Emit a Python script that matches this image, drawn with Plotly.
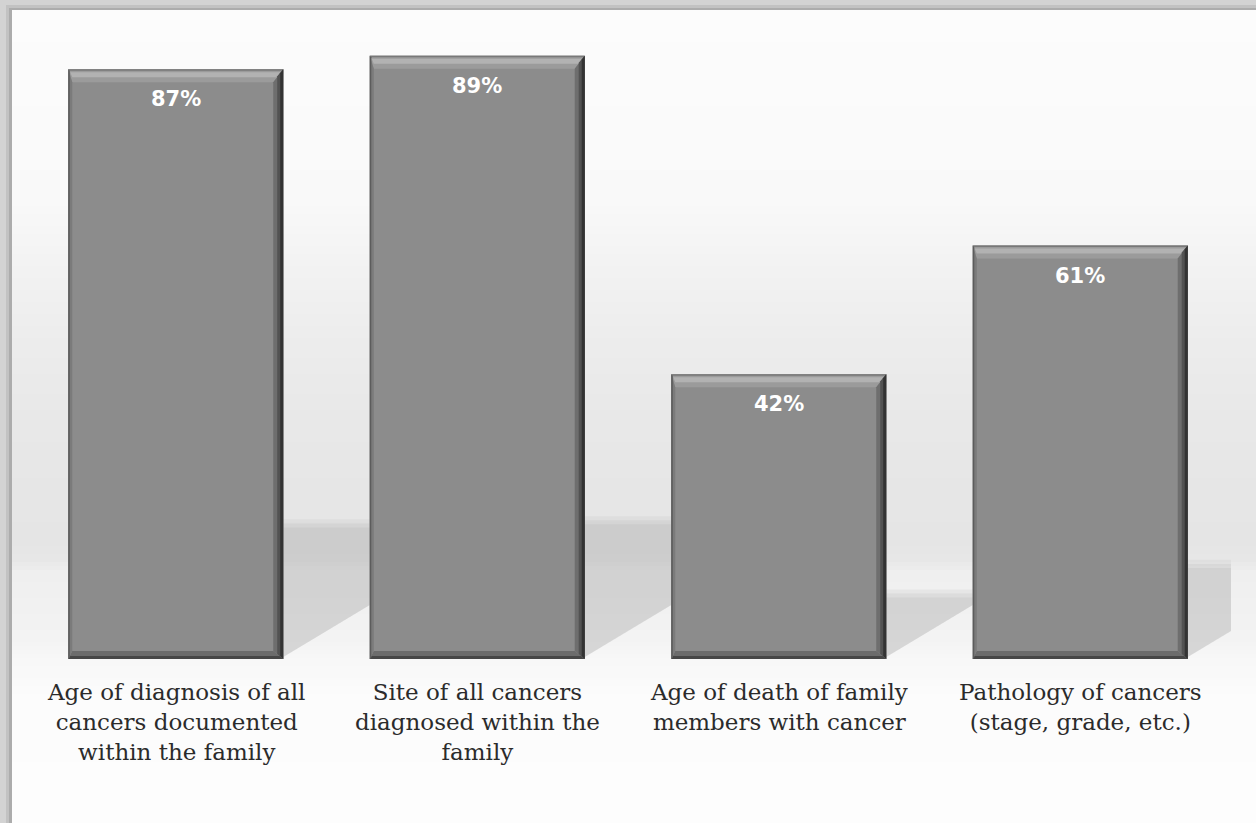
import plotly.graph_objects as go

# Survey results: share of family-history records containing each item
categories = [
    "Age of diagnosis of all<br>cancers documented<br>within the family",
    "Site of all cancers<br>diagnosed within the<br>family",
    "Age of death of family<br>members with cancer",
    "Pathology of cancers<br>(stage, grade, etc.)",
]
percent_values = [87, 89, 42, 61]
value_labels = [f"{v}%" for v in percent_values]

# ---- layout geometry -------------------------------------------------
W_FIG, H_FIG = 1256, 823
M_L, M_R, M_T, M_B = 25, 25, 20, 164
PLOT_W = W_FIG - M_L - M_R
PLOT_H = H_FIG - M_T - M_B
Y_MAX = 94.28
BAR_W = 0.713
PX_X = PLOT_W / len(categories)      # pixels per x unit
PX_Y = PLOT_H / Y_MAX                # pixels per y unit
xs = list(range(len(categories)))


def px(X):
    return (X - M_L) / PLOT_W


def py(Y):
    return (H_FIG - M_B - Y) / PLOT_H


def grey(g):
    g = int(round(g))
    return f"rgb({g},{g},{g})"


shapes = []

# outer frame shadow and white panel
shapes.append(dict(type="rect", xref="paper", yref="paper", layer="below",
                   x0=px(6), x1=px(W_FIG + 5), y0=py(H_FIG + 5), y1=py(5),
                   fillcolor="#c2c2c2", line_width=0))
shapes.append(dict(type="rect", xref="paper", yref="paper", layer="below",
                   x0=px(9), x1=px(W_FIG + 5), y0=py(H_FIG + 5), y1=py(8),
                   fillcolor="#acacac", line_width=0))
shapes.append(dict(type="rect", xref="paper", yref="paper", layer="below",
                   x0=px(12), x1=px(W_FIG + 5), y0=py(H_FIG + 5), y1=py(10),
                   fillcolor="#fcfcfc", line_width=0))

# soft vertical backdrop gradient behind the bars
stops = [(10, 252), (200, 249), (260, 243), (330, 237), (420, 232),
         (540, 229), (560, 231), (572, 239), (640, 243), (662, 248),
         (700, 252), (823, 253)]


def level(y):
    for (ya, ga), (yb, gb) in zip(stops[:-1], stops[1:]):
        if ya <= y <= yb:
            return ga + (gb - ga) * (y - ya) / (yb - ya)
    return stops[-1][1]


step = 4
for y in range(10, H_FIG, step):
    shapes.append(dict(type="rect", xref="paper", yref="paper", layer="below",
                       x0=px(12), x1=px(W_FIG + 5), y0=py(y + step), y1=py(y),
                       fillcolor=grey(level(y + step / 2)), line_width=0))

# cast shadows on the floor, to the right of each bar (soft top edge)
for i, v in enumerate(percent_values):
    xr = i + BAR_W / 2
    xe = (i + 1 - BAR_W / 2) if i < len(categories) - 1 else len(categories) - 0.5
    top = 0.23 * v
    y0b = 0.3
    y1b = y0b + 0.6 * (xe - xr) * PX_X / PX_Y
    for dt, col in [(0.6, "rgba(165,165,165,0.12)"),
                    (0.0, "rgba(165,165,165,0.14)"),
                    (-0.6, "rgba(160,160,160,0.16)")]:
        path = (f"M {xr},{top + dt} L {xe},{top + dt} L {xe},{y1b} "
                f"L {xr},{y0b} Z")
        shapes.append(dict(type="path", xref="x", yref="y", layer="below",
                           path=path, fillcolor=col, line_width=0))

# bevelled edges of each bar (pixel offsets around the bar outline)
hw = BAR_W / 2 * PX_X
T_B, R_B, L_B, B_B = 13, 10, 4, 8


def pix_path(i, anchor_y, pts, color):
    d = "M " + " L ".join(f"{a:.2f},{b:.2f}" for a, b in pts) + " Z"
    shapes.append(dict(type="path", xref="x", yref="y", layer="above",
                       xsizemode="pixel", ysizemode="pixel",
                       xanchor=i, yanchor=anchor_y, path=d,
                       fillcolor=color, line_width=0))


for i, v in enumerate(percent_values):
    H = v * PX_Y
    # top bevel
    pix_path(i, v, [(-hw, 0), (hw, 0), (hw - R_B, -T_B), (-hw + L_B, -T_B)], "#9b9b9b")
    pix_path(i, v, [(-hw + 2, -3), (hw - 3, -3), (hw - 6, -8), (-hw + 4, -8)], "#b2b2b2")
    pix_path(i, v, [(-hw, 0), (hw, 0), (hw - 1, -1.5), (-hw + 1, -1.5)], "#787878")
    # bottom bevel
    pix_path(i, v, [(-hw, -H), (hw, -H), (hw - R_B, -H + B_B), (-hw + L_B, -H + B_B)], "#6c6c6c")
    pix_path(i, v, [(-hw, -H), (hw, -H), (hw - 3, -H + 3), (-hw + 2, -H + 3)], "#474747")
    # left bevel
    pix_path(i, v, [(-hw, 0), (-hw + L_B, -T_B), (-hw + L_B, -H + B_B), (-hw, -H)], "#7b7b7b")
    pix_path(i, v, [(-hw, 0), (-hw + 1.5, -1.5), (-hw + 1.5, -H + 1.5), (-hw, -H)], "#5c5c5c")
    # right bevel
    pix_path(i, v, [(hw, 0), (hw - R_B, -T_B), (hw - R_B, -H + B_B), (hw, -H)], "#6e6e6e")
    pix_path(i, v, [(hw, 0), (hw - 6, -7), (hw - 6, -H + 5), (hw, -H)], "#525252")
    pix_path(i, v, [(hw, 0), (hw - 3, -4), (hw - 3, -H + 3), (hw, -H)], "#333333")

fig = go.Figure(go.Bar(
    x=xs, y=percent_values, width=BAR_W,
    marker=dict(color="#8c8c8c", line_width=0),
    hoverinfo="skip",
))

annotations = []
for i, (v, lab) in enumerate(zip(percent_values, value_labels)):
    annotations.append(dict(x=i, y=v, xref="x", yref="y", text=f"<b>{lab}</b>",
                            showarrow=False, yanchor="middle", yshift=-30,
                            font=dict(family="DejaVu Sans", size=21, color="white")))
for i, cat in enumerate(categories):
    annotations.append(dict(x=i, y=0, xref="x", yref="paper", text=cat,
                            showarrow=False, yanchor="top", yshift=-18,
                            font=dict(family="DejaVu Serif", size=23, color="#2b2b2b")))

fig.update_layout(
    width=W_FIG, height=H_FIG,
    margin=dict(l=M_L, r=M_R, t=M_T, b=M_B),
    paper_bgcolor="#d3d3d3",
    plot_bgcolor="rgba(0,0,0,0)",
    showlegend=False,
    shapes=shapes,
    annotations=annotations,
    xaxis=dict(range=[-0.5, len(categories) - 0.5], showticklabels=False,
               showgrid=False, zeroline=False, showline=False, ticks=""),
    yaxis=dict(range=[0, Y_MAX], showticklabels=False, showgrid=False,
               zeroline=False, showline=False, ticks=""),
)

fig.write_html("out.html")
